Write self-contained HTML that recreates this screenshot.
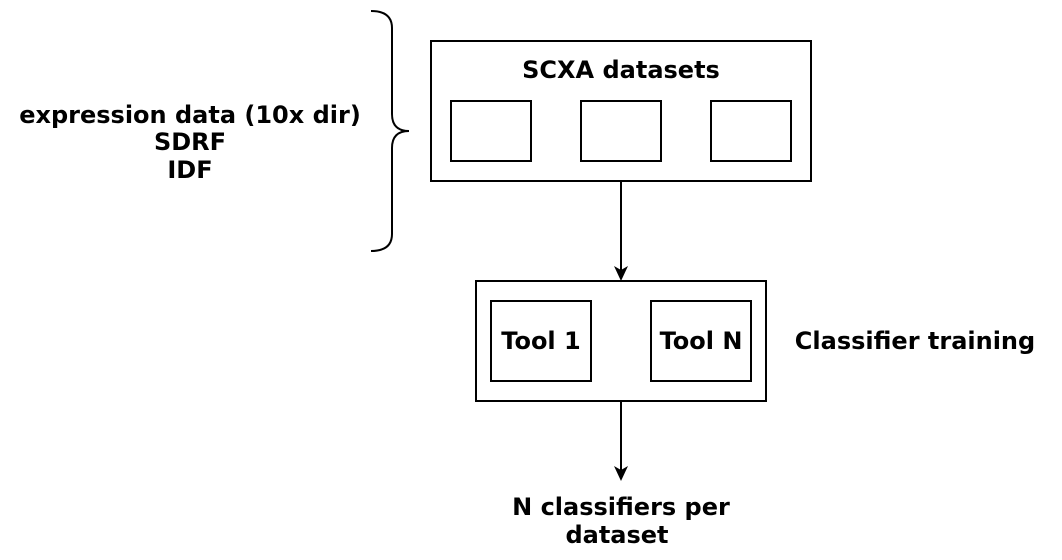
<!DOCTYPE html>
<html><head><style>
html,body{margin:0;padding:0;background:#fff;}
svg{display:block;}
text{font-family:"DejaVu Sans","Liberation Sans",sans-serif;font-weight:bold;font-size:24px;fill:#000;}
</style></head><body>
<svg width="1062" height="560" viewBox="0 0 1062 560" xmlns="http://www.w3.org/2000/svg">
<g fill="none" stroke="#000" stroke-width="2">
<path d="M371,11 Q392,11 392,28 L392,114 Q392,131 409,131 Q392,131 392,148 L392,234 Q392,251 371,251"/>
<rect x="431" y="41" width="380" height="140"/>
<rect x="451" y="101" width="80" height="60"/>
<rect x="581" y="101" width="80" height="60"/>
<rect x="711" y="101" width="80" height="60"/>
<line x1="621" y1="181" x2="621" y2="271"/>
<rect x="476" y="281" width="290" height="120"/>
<rect x="491" y="301" width="100" height="80"/>
<rect x="651" y="301" width="100" height="80"/>
<line x1="621" y1="401" x2="621" y2="471"/>
</g>
<path d="M614,266 L621,281 L628,266 L621,270 Z" fill="#000"/>
<path d="M614,466 L621,481 L628,466 L621,470 Z" fill="#000"/>
<text x="621" y="78" text-anchor="middle">SCXA datasets</text>
<text x="541" y="349" text-anchor="middle">Tool 1</text>
<text x="701" y="349" text-anchor="middle">Tool N</text>
<text x="915" y="349" text-anchor="middle">Classifier training</text>
<text x="621" y="515" text-anchor="middle">N classifiers per</text>
<text x="617" y="543" text-anchor="middle">dataset</text>
<text x="190" y="123" text-anchor="middle">expression data (10x dir)</text>
<text x="190" y="150" text-anchor="middle">SDRF</text>
<text x="190" y="178" text-anchor="middle">IDF</text>
</svg>
</body></html>
